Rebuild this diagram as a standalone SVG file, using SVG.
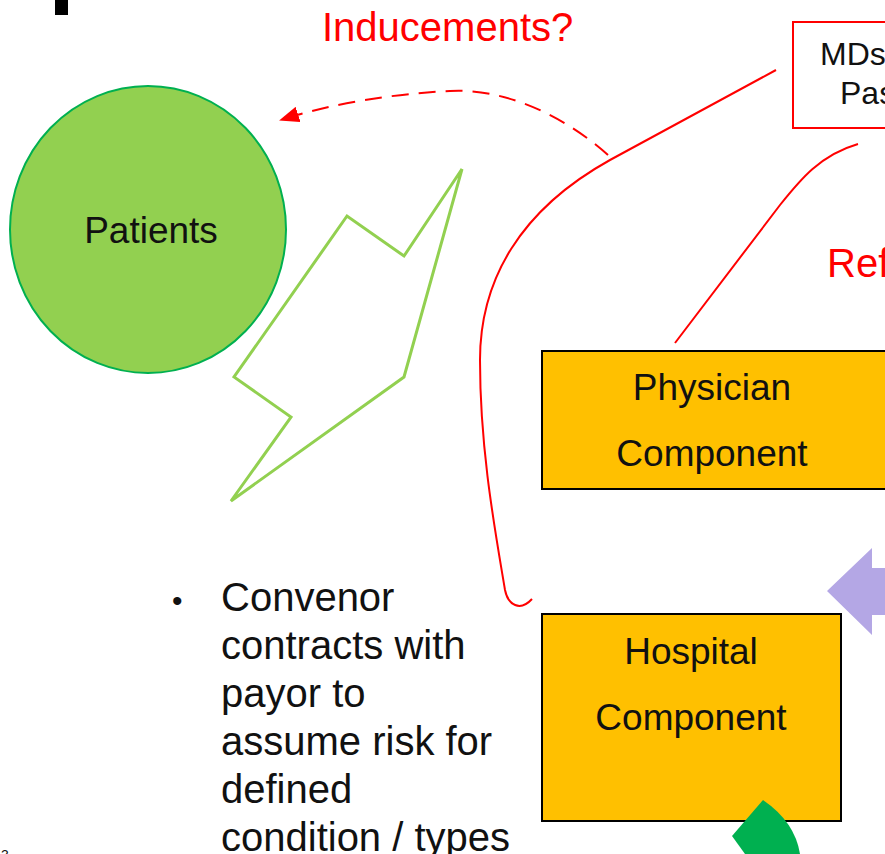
<svg xmlns="http://www.w3.org/2000/svg" width="885" height="854" viewBox="0 0 885 854">
<style>
text{font-family:"Liberation Sans",Arial,sans-serif;}
.box{fill:#FFC000;stroke:#000;stroke-width:2;}
.lbl{font-size:37px;fill:#111;text-anchor:middle;}
.red{fill:none;stroke:#FF0000;stroke-width:2;}
.redtxt{font-size:40px;fill:#FF0000;}
.body{font-size:40px;fill:#111;}
</style>
<defs>
<marker id="ah" markerWidth="20" markerHeight="16" refX="18" refY="8" orient="auto" markerUnits="userSpaceOnUse" viewBox="0 0 20 16">
<path d="M0,0 L20,8 L0,16 z" fill="#FF0000"/>
</marker>
</defs>
<rect x="0" y="0" width="885" height="854" fill="#fff"/>
<rect x="55" y="0" width="13" height="15" fill="#000"/>
<text x="1" y="860" style="font-size:14px;fill:#111">3</text>

<g id="connectors">
<path class="red" d="M776,70 L610,160 C520,210 480,280 480,360 C480,450 495,530 505,590 C508,605 520,612 532,599"/>
<path class="red" d="M858,144 C820,155 800,180 780,205 L675,343"/>
<path class="red" d="M608,155 C560,112 500,88 450,91 C390,94 330,104 281,120" stroke-dasharray="17,10" marker-end="url(#ah)"/>
</g>

<g id="patients">
<ellipse cx="148" cy="229.5" rx="138" ry="143.5" fill="#92D050" stroke="#00B050" stroke-width="2"/>
<text class="lbl" x="151" y="243">Patients</text>
</g>

<g id="lightning">
<polygon points="462,169 404,256 347,216 234,377 291,417 231,501 404,377" fill="none" stroke="#92D050" stroke-width="3" stroke-linejoin="miter"/>
</g>

<g id="inducements">
<text class="redtxt" x="322" y="41">Inducements?</text>
</g>

<g id="mds">
<rect x="793" y="22" width="100" height="106" fill="#fff" stroke="#FF0000" stroke-width="2"/>
<text x="820" y="65" style="font-size:32px;fill:#111">MDs</text>
<text x="840" y="104" style="font-size:32px;fill:#111">Pas</text>
</g>

<g id="referral">
<text class="redtxt" x="827" y="277">Ref</text>
</g>

<g id="physician">
<rect class="box" x="542" y="351" width="350" height="138"/>
<text class="lbl" x="712" y="400">Physician</text>
<text class="lbl" x="712" y="466">Component</text>
</g>

<g id="purple-arrow">
<polygon points="827,591 872,548 872,568 890,568 890,615 872,615 872,635" fill="#B4A7E5"/>
</g>

<g id="hospital">
<rect class="box" x="542" y="614" width="299" height="207"/>
<text class="lbl" x="691" y="664">Hospital</text>
<text class="lbl" x="691" y="730">Component</text>
</g>

<g id="green-wedge">
<path d="M732,836 L763,800 Q795,822 800,854 L745,854 Z" fill="#00B050"/>
</g>

<g id="bullet">
<text class="body" x="172" y="611" style="font-size:30px">•</text>
<text class="body" x="221" y="611">Convenor</text>
<text class="body" x="221" y="659">contracts with</text>
<text class="body" x="221" y="707">payor to</text>
<text class="body" x="221" y="755">assume risk for</text>
<text class="body" x="221" y="803">defined</text>
<text class="body" x="221" y="851">condition / types</text>
</g>
</svg>
